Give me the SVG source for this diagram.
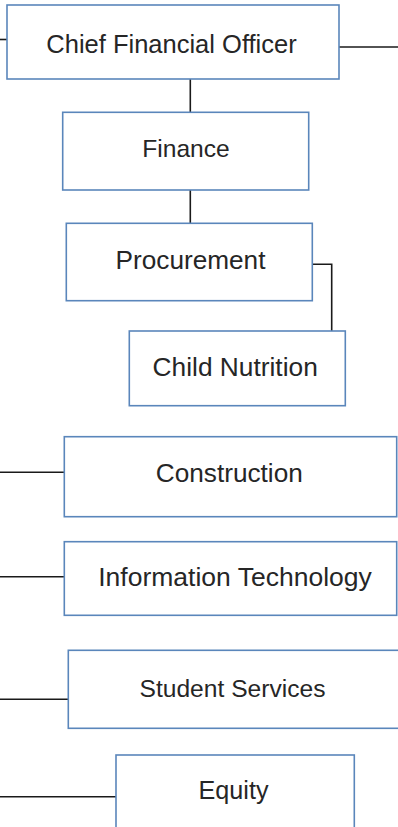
<svg xmlns="http://www.w3.org/2000/svg" width="398" height="827" viewBox="0 0 398 827">
<style>
.box{fill:#ffffff;stroke:#5a86bb;stroke-width:1.6}
.lbl{font-family:"Liberation Sans",Arial,sans-serif;font-size:25px;fill:#262626;text-anchor:middle}
.con{fill:none;stroke:#1a1a1a;stroke-width:1.6}
</style>
<rect width="398" height="827" fill="#ffffff"/>
<g id="connectors">
<line class="con" x1="0" y1="39.5" x2="7" y2="39.5"/>
<line class="con" x1="339" y1="47" x2="398" y2="47"/>
<line class="con" x1="190.3" y1="79" x2="190.3" y2="112"/>
<line class="con" x1="190.3" y1="190" x2="190.3" y2="223"/>
<polyline class="con" points="312,264.3 331.7,264.3 331.7,331"/>
<line class="con" x1="0" y1="472.3" x2="64" y2="472.3"/>
<line class="con" x1="0" y1="576.7" x2="64" y2="576.7"/>
<line class="con" x1="0" y1="699.3" x2="68" y2="699.3"/>
<line class="con" x1="0" y1="796.7" x2="116" y2="796.7"/>
</g>
<g id="cfo"><rect class="box" x="7" y="5" width="332" height="74"/><text class="lbl" x="171.5" y="52.5" style="font-size:25.5px">Chief Financial Officer</text></g>
<g id="finance"><rect class="box" x="62.7" y="112.3" width="246" height="77.7"/><text class="lbl" x="186" y="157.3" style="font-size:24.6px">Finance</text></g>
<g id="procurement"><rect class="box" x="66.3" y="223.3" width="246" height="77.4"/><text class="lbl" x="190.5" y="269.3" style="font-size:26.2px">Procurement</text></g>
<g id="child-nutrition"><rect class="box" x="129.3" y="331" width="216" height="74.7"/><text class="lbl" x="235.2" y="375.7" style="font-size:26.3px">Child Nutrition</text></g>
<g id="construction"><rect class="box" x="64.3" y="436.7" width="332.4" height="80"/><text class="lbl" x="229.3" y="481.7" style="font-size:26.2px">Construction</text></g>
<g id="it"><rect class="box" x="64.3" y="541.7" width="332.4" height="73.6"/><text class="lbl" x="235" y="586" style="font-size:26.5px">Information Technology</text></g>
<g id="student-services"><rect class="box" x="68.3" y="650.3" width="340" height="78"/><text class="lbl" x="232.5" y="696.7" style="font-size:24.6px">Student Services</text></g>
<g id="equity"><rect class="box" x="116" y="755" width="238.3" height="90"/><text class="lbl" x="233.5" y="799.3" style="font-size:25.2px">Equity</text></g>
</svg>
